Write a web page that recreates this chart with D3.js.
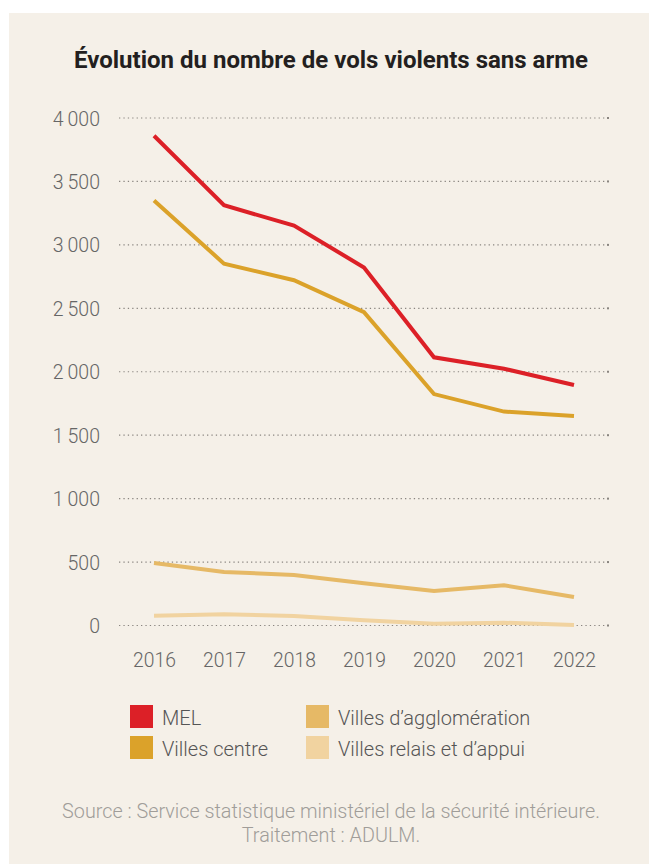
<!DOCTYPE html>
<html>
<head>
<meta charset="utf-8">
<script src="https://cdn.jsdelivr.net/npm/d3@7"></script>
<style>
  body { margin: 0; background: #ffffff; }
  svg { display: block; font-family: Roboto, sans-serif; }
</style>
</head>
<body>
<div id="graph"></div>
<script>
var years = ["2016", "2017", "2018", "2019", "2020", "2021", "2022"];
var mel = [3860, 3312, 3152, 2822, 2114, 2024, 1896];
var villesCentre = [3349, 2852, 2721, 2469, 1824, 1686, 1652];
var villesAgglo = [493, 422, 398, 333, 272, 317, 225];
var villesRelais = [77, 88, 75, 41, 14, 22, 4];
var yTicks = [0, 500, 1000, 1500, 2000, 2500, 3000, 3500, 4000];
var yTickLabels = ["0", "500", "1\u2009000", "1\u2009500", "2\u2009000", "2\u2009500", "3\u2009000", "3\u2009500", "4\u2009000"];

var seriesNames = ["MEL", "Villes centre", "Villes d\u2019agglomération", "Villes relais et d\u2019appui"];
var seriesColors = ["#dc2027", "#dba22a", "#e6b966", "#f1d3a0"];

function init() {
    var series = [mel, villesCentre, villesAgglo, villesRelais];

    var width = 649, height = 864;

    var svg = d3.select("#graph").append("svg")
        .attr("width", width)
        .attr("height", height);

    // fond beige du panneau
    svg.append("rect")
        .attr("x", 9)
        .attr("y", 13)
        .attr("width", width - 9)
        .attr("height", height - 13)
        .style("fill", "#f5f0e8");

    svg.append("text")
        .attr("x", 331)
        .attr("y", 68)
        .attr("text-anchor", "middle")
        .attr("font-size", "23px")
        .attr("textLength", 514)
        .attr("lengthAdjust", "spacingAndGlyphs")
        .style("font-weight", "bold")
        .style("fill", "#231f20")
        .text("Évolution du nombre de vols violents sans arme");

    var x = d3.scalePoint()
        .domain(years)
        .range([119, 609])
        .padding(0.5);

    var y = d3.scaleLinear()
        .domain([0, 4000])
        .range([625.5, 118]);

    // grille pointillée
    var grid = svg.append("g");
    yTicks.forEach(function (t) {
        grid.append("line")
            .attr("x1", 119)
            .attr("x2", 607)
            .attr("y1", y(t))
            .attr("y2", y(t))
            .style("stroke", "#8a8580")
            .style("stroke-width", 1.2)
            .style("stroke-dasharray", "1.3,3.1");
        grid.append("rect")
            .attr("x", 607)
            .attr("y", y(t) - 1)
            .attr("width", 2)
            .attr("height", 2)
            .style("fill", "#8a8580");
    });

    var yAxis = d3.axisLeft(y)
        .tickValues(yTicks)
        .tickFormat(function (d, i) { return yTickLabels[i]; })
        .tickSize(0)
        .tickPadding(0);

    svg.append("g")
        .attr("transform", "translate(100,0)")
        .call(yAxis)
        .call(function (g) { g.select(".domain").remove(); })
        .selectAll("text")
        .attr("font-size", "19.5px")
        .attr("dy", "0.36em")
        .style("font-family", "Roboto, sans-serif")
        .style("font-weight", 300)
        .style("fill", "#666666");

    var xAxis = d3.axisBottom(x).tickSize(0).tickPadding(0);

    svg.append("g")
        .attr("transform", "translate(0,660)")
        .call(xAxis)
        .call(function (g) { g.select(".domain").remove(); })
        .selectAll("text")
        .attr("font-size", "19.3px")
        .attr("dy", "0.36em")
        .style("font-family", "Roboto, sans-serif")
        .style("font-weight", 300)
        .style("fill", "#666666");

    var line = d3.line()
        .x(function (d, i) { return x(years[i]); })
        .y(function (d) { return y(d); });

    // dessiner du plus clair au plus foncé
    for (var s = series.length - 1; s >= 0; s--) {
        svg.append("path")
            .datum(series[s])
            .attr("d", line)
            .style("fill", "none")
            .style("stroke", seriesColors[s])
            .style("stroke-width", 4)
            .style("stroke-linejoin", "miter");
    }

    // légende
    var legendPos = [[130, 705], [306, 705], [130, 736], [306, 736]];
    var legendOrder = [0, 2, 1, 3];
    legendOrder.forEach(function (s, k) {
        var p = legendPos[k];
        svg.append("rect")
            .attr("x", p[0])
            .attr("y", p[1])
            .attr("width", 23)
            .attr("height", 23)
            .style("fill", seriesColors[s]);
        svg.append("text")
            .attr("x", p[0] + 32)
            .attr("y", p[1] + 19.5)
            .attr("font-size", "20px")
            .style("font-weight", 300)
            .style("fill", "#555555")
            .text(seriesNames[s]);
    });

    svg.append("text")
        .attr("x", 331)
        .attr("y", 818)
        .attr("text-anchor", "middle")
        .attr("font-size", "19.8px")
        .style("font-weight", 300)
        .style("fill", "#a09d99")
        .text("Source : Service statistique ministériel de la sécurité intérieure.");

    svg.append("text")
        .attr("x", 331)
        .attr("y", 841.5)
        .attr("text-anchor", "middle")
        .attr("font-size", "19.8px")
        .style("font-weight", 300)
        .style("fill", "#a09d99")
        .text("Traitement : ADULM.");
}

window.addEventListener('DOMContentLoaded', init)
</script>
</body>
</html>
